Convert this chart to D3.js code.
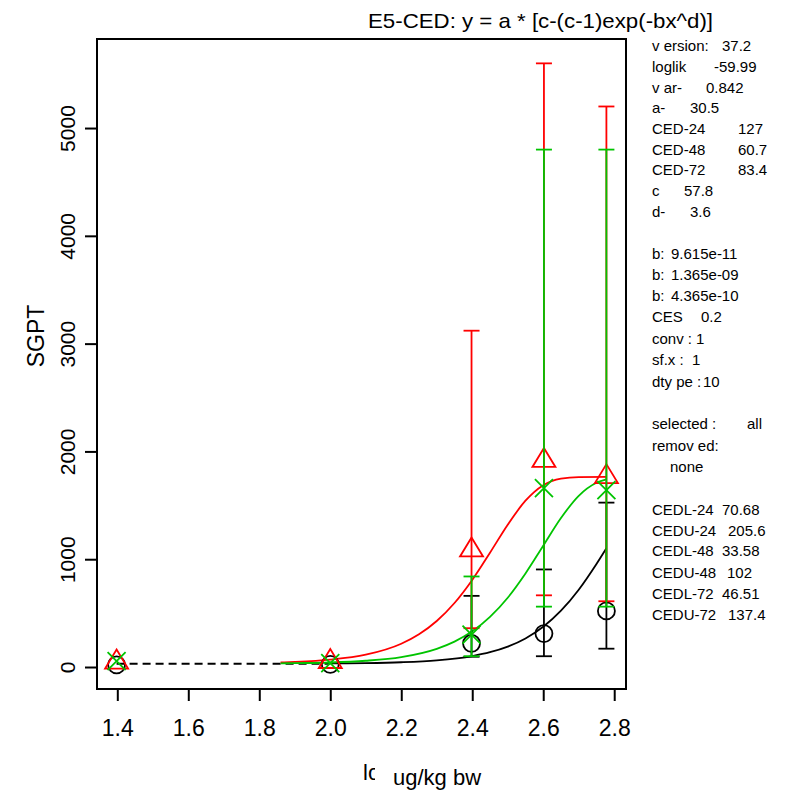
<!DOCTYPE html>
<html>
<head>
<meta charset="utf-8">
<script src="https://cdn.jsdelivr.net/npm/d3@7"></script>
<style>
  body { margin: 0; background: #fff; }
  svg { display: block; font-family: "Liberation Sans", Arial, sans-serif; }
</style>
</head>
<body>
<svg width="795" height="794"></svg>
<script>
// log10 doses and group observations
const doses = [1.398, 2.0, 2.398, 2.602, 2.778];

const blackMean = [20, 25, 220, 310, 520];
const blackLo = [null, null, 95, 100, 170];
const blackHi = [null, null, 660, 905, 1525];

const redMean = [60, 65, 1100, 1930, 1780];
const redLo = [null, null, 360, 665, 610];
const redHi = [null, null, 3120, 5600, 5200];

const greenMean = [55, 35, 300, 1660, 1640];
const greenLo = [null, null, 100, 560, 560];
const greenHi = [null, null, 840, 4800, 4800];

// fitted curves
const redCurveX = [1.86, 1.9, 2.0, 2.1, 2.2, 2.25, 2.3, 2.35, 2.4, 2.45, 2.5, 2.55, 2.6, 2.65, 2.7, 2.778];
const redCurveY = [42, 47, 68, 114, 216, 304, 427, 594, 808, 1060, 1320, 1543, 1687, 1748, 1762, 1763];
const greenCurveX = [1.86, 1.9, 2.0, 2.1, 2.2, 2.3, 2.35, 2.4, 2.45, 2.5, 2.55, 2.6, 2.65, 2.7, 2.75, 2.778];
const greenCurveY = [34, 36, 42, 58, 92, 169, 236, 331, 465, 643, 868, 1125, 1382, 1588, 1709, 1741];
const blackCurveX = [2.0, 2.1, 2.2, 2.3, 2.4, 2.45, 2.5, 2.55, 2.6, 2.65, 2.7, 2.75, 2.778];
const blackCurveY = [33, 36, 44, 62, 102, 137, 189, 265, 373, 522, 717, 956, 1102];
const baseX = [1.398, 2.0];
const baseY = [30.5, 30.5];

const xLimits = [1.3428, 2.8332];
const yLimits = [-204, 5826];
const xTicks = [1.4, 1.6, 1.8, 2.0, 2.2, 2.4, 2.6, 2.8];
const yTicks = [0, 1000, 2000, 3000, 4000, 5000];

const infoLines = [
  ["v ersion:", "37.2", 722, 46],
  ["loglik", "-59.99", 714, 67],
  ["v ar-", "0.842", 706, 88],
  ["a-", "30.5", 690, 108],
  ["CED-24", "127", 738, 129],
  ["CED-48", "60.7", 738, 150],
  ["CED-72", "83.4", 738, 170],
  ["c", "57.8", 684, 191],
  ["d-", "3.6", 690, 212],
  ["b:", "9.615e-11", 671, 254],
  ["b:", "1.365e-09", 671, 275],
  ["b:", "4.365e-10", 671, 296],
  ["CES", "0.2", 701, 317],
  ["conv :", "1", 696, 339],
  ["sf.x :", "1", 692, 360],
  ["dty pe :", "10", 703, 382],
  ["selected :", "all", 747, 424],
  ["remov ed:", "", 0, 446],
  ["", "none", 670, 467],
  ["CEDL-24", "70.68", 722, 510],
  ["CEDU-24", "205.6", 728, 531],
  ["CEDL-48", "33.58", 722, 551],
  ["CEDU-48", "102", 727, 573],
  ["CEDL-72", "46.51", 722, 594],
  ["CEDU-72", "137.4", 728, 615]
];

const svg = d3.select("svg");
const box = { left: 97, right: 626, top: 39, bottom: 689 };

const x = d3.scaleLinear().domain(xLimits).range([box.left, box.right]);
const y = d3.scaleLinear().domain(yLimits).range([box.bottom, box.top]);

// axes
const xAxis = svg.append("g")
  .attr("transform", `translate(0,${box.bottom})`)
  .call(d3.axisBottom(x).tickValues(xTicks).tickFormat(d3.format(".1f")).tickSize(12).tickPadding(19));
xAxis.select(".domain").remove();
xAxis.selectAll("line").attr("stroke", "#000").attr("stroke-width", 2);
xAxis.selectAll("text").attr("font-size", 23).attr("fill", "#000")
  .attr("font-family", "Liberation Sans, Arial, sans-serif");

const yAxis = svg.append("g")
  .attr("transform", `translate(${box.left},0)`)
  .call(d3.axisLeft(y).tickValues(yTicks).tickFormat(d3.format("d")).tickSize(12));
yAxis.select(".domain").remove();
yAxis.selectAll("line").attr("stroke", "#000").attr("stroke-width", 2);
yAxis.selectAll("text")
  .attr("font-size", 21).attr("fill", "#000")
  .attr("font-family", "Liberation Sans, Arial, sans-serif")
  .attr("text-anchor", "middle")
  .attr("transform", "rotate(-90)")
  .attr("x", 0).attr("y", -22).attr("dy", 0);

// frame
svg.append("rect")
  .attr("x", box.left).attr("y", box.top)
  .attr("width", box.right - box.left).attr("height", box.bottom - box.top)
  .attr("fill", "none").attr("stroke", "#000").attr("stroke-width", 2);

const line = d3.line().x(d => x(d[0])).y(d => y(d[1])).curve(d3.curveMonotoneX);
const zip = (a, b) => a.map((v, i) => [v, b[i]]);

// dashed baseline
svg.append("path").attr("d", line(zip(baseX, baseY)))
  .attr("fill", "none").attr("stroke", "#000").attr("stroke-width", 2)
  .attr("stroke-dasharray", "8,5");

const series = [
  { color: "#000000", cx: blackCurveX, cy: blackCurveY, mean: blackMean, lo: blackLo, hi: blackHi, shape: "circle" },
  { color: "#ff0000", cx: redCurveX, cy: redCurveY, mean: redMean, lo: redLo, hi: redHi, shape: "triangle" },
  { color: "#00c400", cx: greenCurveX, cy: greenCurveY, mean: greenMean, lo: greenLo, hi: greenHi, shape: "cross" }
];

series.forEach(s => {
  svg.append("path").attr("d", line(zip(s.cx, s.cy)))
    .attr("fill", "none").attr("stroke", s.color).attr("stroke-width", 1.8);
});

series.forEach(s => {
  const g = svg.append("g").attr("stroke", s.color).attr("stroke-width", 1.8).attr("fill", "none");
  doses.forEach((d, i) => {
    if (s.lo[i] != null) {
      const px = x(d);
      g.append("line").attr("x1", px).attr("x2", px).attr("y1", y(s.lo[i])).attr("y2", y(s.hi[i]));
      [s.lo[i], s.hi[i]].forEach(v => {
        g.append("line").attr("x1", px - 8).attr("x2", px + 8).attr("y1", y(v)).attr("y2", y(v));
      });
    }
    const px = x(d), py = y(s.mean[i]);
    if (s.shape === "circle") {
      g.append("circle").attr("cx", px).attr("cy", py).attr("r", 8.5);
    } else if (s.shape === "triangle") {
      g.append("path").attr("d", `M${px},${py - 11}L${px + 11.5},${py + 8}L${px - 11.5},${py + 8}Z`);
    } else {
      g.append("path").attr("d", `M${px - 9},${py - 9}L${px + 9},${py + 9}M${px - 9},${py + 9}L${px + 9},${py - 9}`);
    }
  });
});

// titles
svg.append("text").attr("x", 368).attr("y", 28).attr("font-size", 21)
  .attr("textLength", 345).attr("lengthAdjust", "spacingAndGlyphs")
  .text("E5-CED: y = a * [c-(c-1)exp(-bx^d)]");

svg.append("text")
  .attr("transform", "translate(44,336) rotate(-90)")
  .attr("text-anchor", "middle").attr("font-size", 23).text("SGPT");

svg.append("clipPath").attr("id", "lclip")
  .append("rect").attr("x", 340).attr("y", 740).attr("width", 35).attr("height", 54);
svg.append("text").attr("x", 363).attr("y", 780).attr("font-size", 22)
  .attr("clip-path", "url(#lclip)").text("lo");
svg.append("text").attr("x", 393).attr("y", 785).attr("font-size", 22).text("ug/kg bw");

// parameter listing
const info = svg.append("g").attr("font-size", 15).attr("fill", "#000");
infoLines.forEach(([lab, val, vx, ly]) => {
  if (lab) info.append("text").attr("x", 652).attr("y", ly).attr("dy", "0.35em").text(lab);
  if (val) info.append("text").attr("x", vx).attr("y", ly).attr("dy", "0.35em").text(val);
});
</script>
</body>
</html>
